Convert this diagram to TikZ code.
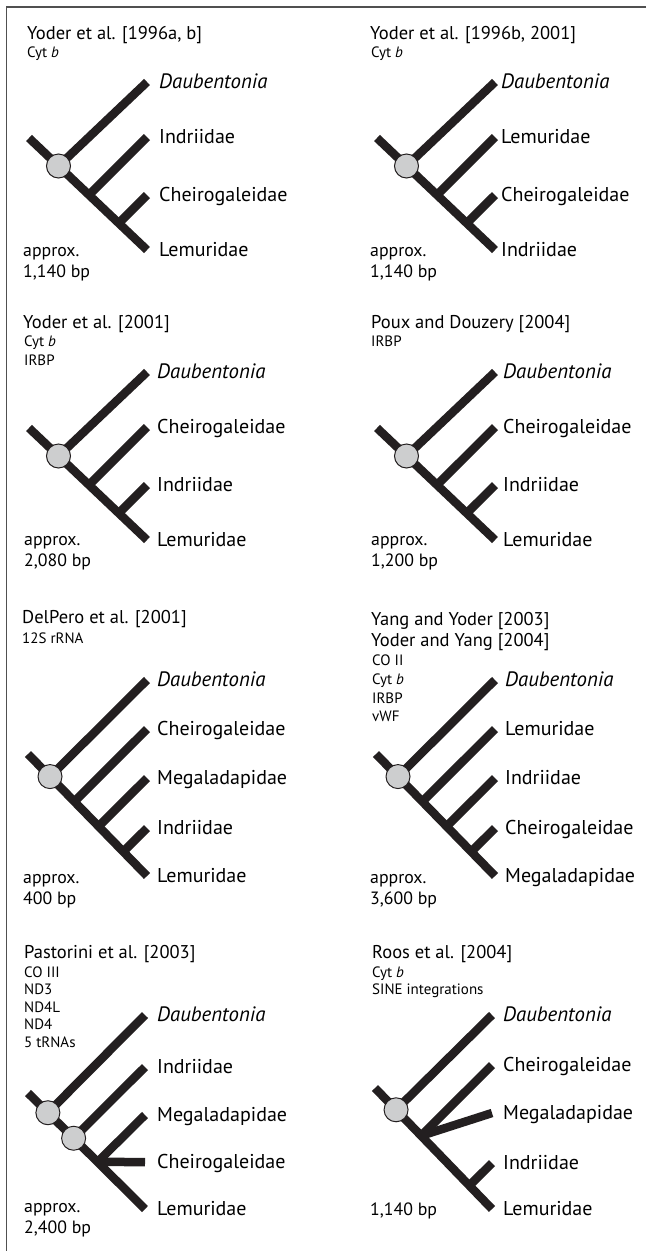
\documentclass[tikz,border=0pt]{standalone}
\usepackage{fontspec}
\setmainfont{PT Sans}
\usetikzlibrary{calc}
\definecolor{linec}{RGB}{35,31,32}
\definecolor{nodefill}{RGB}{205,206,207}
\definecolor{framec}{RGB}{80,80,80}
\newcommand\dau{{\fontsize{20.8}{22}\selectfont\itshape Daubentonia}}
\newcommand\fourtree[6]{%
  \coordinate (#1r) at (29,138);
  \coordinate (#1l) at (147,250);
  \coordinate (#1c) at ($(#1r)!0.25!(#1l)$);
  \coordinate (#1t1) at (147,82);
  \coordinate (#1t2) at (147,137);
  \coordinate (#1t3) at (147,195);
  \coordinate (#1a2) at ($(#1t2)+(-90,90)$);
  \coordinate (#1a3) at ($(#1t3)+(-90,90)$);
  \coordinate (#1j2) at (intersection of #1r--#1l and #1t2--#1a2);
  \coordinate (#1j3) at (intersection of #1r--#1l and #1t3--#1a3);
  \draw[br] (#1r) -- (#1l);
  \draw[br] (#1c) -- (#1t1);
  \draw[br] (#1j2) -- (#1t2);
  \draw[br] (#1j3) -- (#1t3);
  \node[nd] (#1n) at (#1c) {};
  \node[lab] (#1L1) at (#2,88.5) {#3};
  \node[lab] (#1L2) at (#2,143.5) {#4};
  \node[lab] (#1L3) at (#2,201.5) {#5};
  \node[lab] (#1L4) at (#2,256.5) {#6};
}
\newcommand\fivetree[7]{%
  \coordinate (#1r) at (28,754);
  \coordinate (#1l) at (147,876);
  \coordinate (#1c) at ($(#1r)!0.185!(#1l)$);
  \coordinate (#1t1) at (147,680);
  \coordinate (#1t2) at (147,729);
  \coordinate (#1t3) at (147,778);
  \coordinate (#1t4) at (147,828);
  \coordinate (#1a2) at ($(#1t2)+(-120,120)$);
  \coordinate (#1a3) at ($(#1t3)+(-120,120)$);
  \coordinate (#1a4) at ($(#1t4)+(-120,120)$);
  \coordinate (#1j2) at (intersection of #1r--#1l and #1t2--#1a2);
  \coordinate (#1j3) at (intersection of #1r--#1l and #1t3--#1a3);
  \coordinate (#1j4) at (intersection of #1r--#1l and #1t4--#1a4);
  \draw[br] (#1r) -- (#1l);
  \draw[br] (#1c) -- (#1t1);
  \draw[br] (#1j2) -- (#1t2);
  \draw[br] (#1j3) -- (#1t3);
  \draw[br] (#1j4) -- (#1t4);
  \node[nd] (#1n) at (#1c) {};
  \node[lab] (#1L1) at (#2,686.5) {#3};
  \node[lab] (#1L2) at (#2,735.5) {#4};
  \node[lab] (#1L3) at (#2,784.5) {#5};
  \node[lab] (#1L4) at (#2,834.5) {#6};
  \node[lab] (#1L5) at (#2,882.5) {#7};
}
\begin{document}
\begin{tikzpicture}[x=1pt,y=-1pt,
  br/.style={line width=8.5pt, draw=linec, line cap=butt},
  nd/.style={circle, draw=linec, line width=1pt, fill=nodefill, minimum size=24pt, inner sep=0pt},
  ttl/.style={anchor=base west, inner sep=0pt, font=\fontsize{18.5}{20}\selectfont},
  gene/.style={anchor=base west, inner sep=0pt, font=\fontsize{15}{17}\selectfont},
  lab/.style={anchor=base west, inner sep=0pt, font=\fontsize{20}{22}\selectfont},
  bp/.style={anchor=base west, inner sep=0pt, font=\fontsize{17.8}{20}\selectfont},
  ]
\useasboundingbox (0,0) rectangle (646,1251);
\coordinate (fa) at (646,7);
\coordinate (fb) at (6.5,7);
\coordinate (fc) at (6.5,1251);
\draw[framec, line width=1.2pt] (fa) -- (fb) -- (fc);

% ---------- panel 1
\node[ttl] (t1) at (27,39) {Yoder et al. [1996a, b]};
\node[gene] (g1a) at (27,57) {Cyt \textit{b}};
\fourtree{pa}{159}{\dau}{Indriidae}{Cheirogaleidae}{Lemuridae}
\node[bp] (x1a) at (23,256) {approx.};
\node[bp] (x1b) at (23,277) {1,140 bp};

% ---------- panel 2
\node[ttl] (t2) at (370,39) {Yoder et al. [1996b, 2001]};
\node[gene] (g2a) at (371,57) {Cyt \textit{b}};
\begin{scope}[shift={(348,0)}]
\fourtree{pb}{153}{\dau}{Lemuridae}{Cheirogaleidae}{Indriidae}
\end{scope}
\node[bp] (x2a) at (370,256) {approx.};
\node[bp] (x2b) at (370,277) {1,140 bp};

% ---------- panel 3
\node[ttl] (t3) at (23,328) {Yoder et al. [2001]};
\node[gene] (g3a) at (24,346) {Cyt \textit{b}};
\node[gene] (g3b) at (24,365) {IRBP};
\begin{scope}[shift={(0,290)}]
\fourtree{pc}{157}{\dau}{Cheirogaleidae}{Indriidae}{Lemuridae}
\end{scope}
\node[bp] (x3a) at (24,545) {approx.};
\node[bp] (x3b) at (24,566) {2,080 bp};

% ---------- panel 4
\node[ttl] (t4) at (371,328) {Poux and Douzery [2004]};
\node[gene] (g4a) at (371,346) {IRBP};
\begin{scope}[shift={(348,290)}]
\fourtree{pd}{155}{\dau}{Cheirogaleidae}{Indriidae}{Lemuridae}
\end{scope}
\node[bp] (x4a) at (371,545) {approx.};
\node[bp] (x4b) at (371,566) {1,200 bp};

% ---------- panel 5
\node[ttl] (t5) at (22,623) {DelPero et al. [2001]};
\node[gene] (g5a) at (22,643) {12S rRNA};
\fivetree{pe}{157}{\dau}{Cheirogaleidae}{Megaladapidae}{Indriidae}{Lemuridae}
\node[bp] (x5a) at (23,883) {approx.};
\node[bp] (x5b) at (23,904) {400 bp};

% ---------- panel 6
\node[ttl] (t6a) at (371,625) {Yang and Yoder [2003]};
\node[ttl] (t6b) at (371,646) {Yoder and Yang [2004]};
\node[gene] (g6a) at (372,665) {CO II};
\node[gene] (g6b) at (372,684) {Cyt \textit{b}};
\node[gene] (g6c) at (372,703) {IRBP};
\node[gene] (g6d) at (372,721.5) {vWF};
\begin{scope}[shift={(348,0)}]
\fivetree{pf}{157}{\dau}{Lemuridae}{Indriidae}{Cheirogaleidae}{Megaladapidae}
\end{scope}
\node[bp] (x6a) at (370,883) {approx.};
\node[bp] (x6b) at (370,904) {3,600 bp};

% ---------- panel 7
\node[ttl] (t7) at (24,958) {Pastorini et al. [2003]};
\node[gene] (g7a) at (24,977) {CO III};
\node[gene] (g7b) at (24,994.5) {ND3};
\node[gene] (g7c) at (24,1012) {ND4L};
\node[gene] (g7d) at (24,1029.5) {ND4};
\node[gene] (g7e) at (24,1047) {5 tRNAs};
\coordinate (pgr) at (28,1093);
\coordinate (pgl) at (145,1209);
\coordinate (pgc1) at ($(pgr)!0.17!(pgl)$);
\coordinate (pgc2) at ($(pgr)!0.39!(pgl)$);
\coordinate (pgt1) at (145,1015);
\coordinate (pgt2) at (145,1067);
\coordinate (pgt3) at (145,1115);
\coordinate (pgt4) at (145,1162);
\coordinate (pga4) at (0,1162);
\coordinate (pgj) at (intersection of pgr--pgl and pgt4--pga4);
\draw[br] (pgr) -- (pgl);
\draw[br] (pgc1) -- (pgt1);
\draw[br] (pgc2) -- (pgt2);
\draw[br] (pgj) -- (pgt3);
\draw[br] (pgj) -- (pgt4);
\node[nd] (pgn1) at (pgc1) {};
\node[nd] (pgn2) at (pgc2) {};
\node[lab] (pgL1) at (157,1021.5) {\dau};
\node[lab] (pgL2) at (157,1073.5) {Indriidae};
\node[lab] (pgL3) at (157,1121.5) {Megaladapidae};
\node[lab] (pgL4) at (157,1168.5) {Cheirogaleidae};
\node[lab] (pgL5) at (157,1215.5) {Lemuridae};
\node[bp] (x7a) at (24,1212) {approx.};
\node[bp] (x7b) at (24,1233) {2,400 bp};

% ---------- panel 8
\node[ttl] (t8) at (372,958) {Roos et al. [2004]};
\node[gene] (g8a) at (372,977) {Cyt \textit{b}};
\node[gene] (g8b) at (372,994) {SINE integrations};
\coordinate (phr) at (375,1088);
\coordinate (phl) at (492,1209);
\coordinate (phc) at ($(phr)!0.18!(phl)$);
\coordinate (pht1) at (492,1015);
\coordinate (pht2) at (492,1065);
\coordinate (pht3) at (492,1113);
\coordinate (pht4) at (492,1163);
\coordinate (pha2) at ($(pht2)+(-120,120)$);
\coordinate (pha4) at ($(pht4)+(-120,120)$);
\coordinate (phj1) at (intersection of phr--phl and pht2--pha2);
\coordinate (phj2) at (intersection of phr--phl and pht4--pha4);
\draw[br] (phr) -- (phl);
\draw[br] (phc) -- (pht1);
\draw[br] (phj1) -- (pht2);
\draw[br] (phj1) -- (pht3);
\draw[br] (phj2) -- (pht4);
\node[nd] (phn) at (phc) {};
\node[lab] (phL1) at (503,1021.5) {\dau};
\node[lab] (phL2) at (503,1071.5) {Cheirogaleidae};
\node[lab] (phL3) at (503,1119.5) {Megaladapidae};
\node[lab] (phL4) at (503,1169.5) {Indriidae};
\node[lab] (phL5) at (503,1215.5) {Lemuridae};
\node[bp] (x8a) at (370,1215) {1,140 bp};
\end{tikzpicture}
\end{document}
